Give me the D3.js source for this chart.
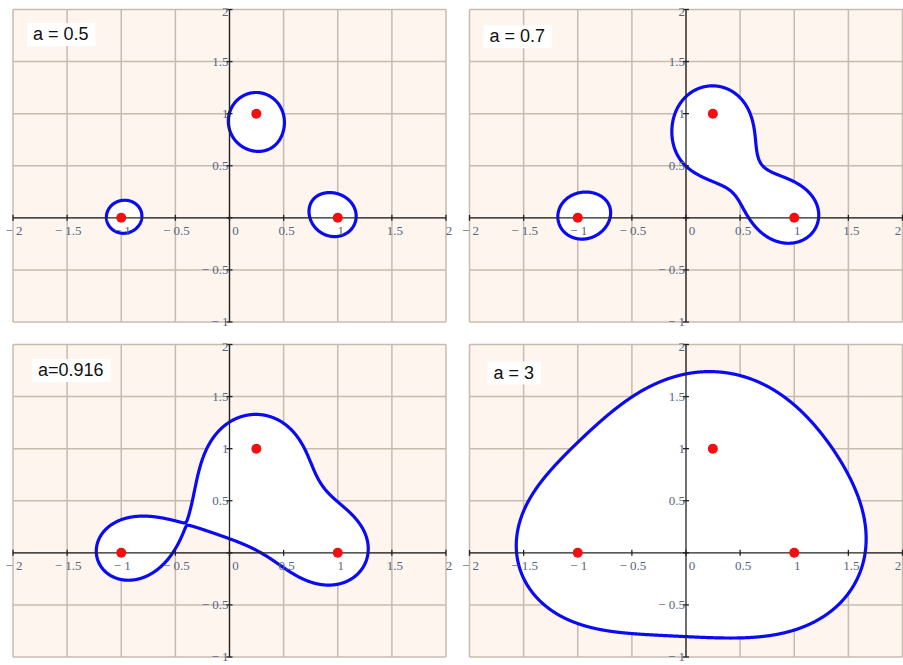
<!DOCTYPE html>
<html>
<head>
<meta charset="utf-8">
<script src="https://cdn.jsdelivr.net/npm/d3@7"></script>
<style>
  html, body { margin: 0; padding: 0; background: #ffffff; }
  svg { display: block; }
  .tick-label { font-family: "Liberation Serif", "DejaVu Serif", serif; font-size: 13px; fill: #56667e; }
  .panel-label { font-family: "Liberation Sans", Arial, sans-serif; font-size: 18px; fill: #111; }
</style>
</head>
<body>
<script>
// Level parameters for the four panels: |(z+1)(z-1)(z-c)| = a
const levels = [0.5, 0.7, 0.916, 3];
const levelLabels = ["a = 0.5", "a = 0.7", "a=0.916", "a = 3"];

// Foci (roots of the cubic)
const fociX = [-1, 1, 0.248];
const fociY = [0, 0, 1];

// Axis ranges and tick values
const xDomain = [-2, 2];
const yDomain = [-1, 2];
const gridX = [-2, -1.5, -1, -0.5, 0, 0.5, 1, 1.5, 2];
const gridY = [-1, -0.5, 0, 0.5, 1, 1.5, 2];
const xTickLabels = ["\u22122", "\u22121.5", "\u22121", "\u22120.5", "0", "0.5", "1", "1.5", "2"];
const yTickLabels = ["\u22121", "\u22120.5", "", "0.5", "1", "1.5", "2"];

const W = 903, H = 665;
const panelW = 433, panelH = 312.5;
const panels = [
  { x: 13,    y: 9.5,   lx: 20, ly: 30.5 },
  { x: 469.5, y: 9.5,   lx: 20, ly: 32.8 },
  { x: 13,    y: 344.5, lx: 25, ly: 31.5 },
  { x: 469.5, y: 344.5, lx: 24, ly: 34 }
];

const svg = d3.select("body").append("svg").attr("width", W).attr("height", H);

// Sample |f(z)| on a fine grid once; each panel contours it at its own level.
const step = 0.004;
const nx = Math.round((xDomain[1] - xDomain[0]) / step);
const ny = Math.round((yDomain[1] - yDomain[0]) / step);
const values = new Float64Array(nx * ny);
for (let j = 0; j < ny; j++) {
  const y = yDomain[1] - (j + 0.5) * step;
  for (let i = 0; i < nx; i++) {
    const x = xDomain[0] + (i + 0.5) * step;
    let m = 1;
    for (let k = 0; k < fociX.length; k++) {
      m *= Math.hypot(x - fociX[k], y - fociY[k]);
    }
    values[j * nx + i] = -m;
  }
}

panels.forEach((p, idx) => {
  const a = levels[idx];
  const xs = d3.scaleLinear().domain(xDomain).range([0, panelW]);
  const ys = d3.scaleLinear().domain(yDomain).range([panelH, 0]);
  const g = svg.append("g").attr("transform", `translate(${p.x},${p.y})`);

  const clipId = "clip" + idx;
  g.append("clipPath").attr("id", clipId)
    .append("rect").attr("width", panelW).attr("height", panelH);

  // Background
  g.append("rect").attr("width", panelW).attr("height", panelH).attr("fill", "#fdf5ee");

  // Grid
  g.append("g").selectAll("line").data(gridX).join("line")
    .attr("x1", d => xs(d)).attr("x2", d => xs(d))
    .attr("y1", 0).attr("y2", panelH)
    .attr("stroke", "#c7bbb0").attr("stroke-width", 1.5);
  g.append("g").selectAll("line").data(gridY).join("line")
    .attr("y1", d => ys(d)).attr("y2", d => ys(d))
    .attr("x1", 0).attr("x2", panelW)
    .attr("stroke", "#c7bbb0").attr("stroke-width", 1.5);

  // Level set region
  const contour = d3.contours().size([nx, ny]).thresholds([-a])(values)[0];
  const sx = panelW / nx, sy = panelH / ny;
  const path = d3.geoPath(d3.geoTransform({
    point: function (x, y) { this.stream.point(x * sx, y * sy); }
  }));
  const region = g.append("g").attr("clip-path", `url(#${clipId})`);
  region.append("path").attr("d", path(contour)).attr("fill", "#ffffff").attr("stroke", "none");

  // Axes through the origin
  const ax = g.append("g");
  ax.append("line").attr("x1", 0).attr("x2", panelW).attr("y1", ys(0)).attr("y2", ys(0))
    .attr("stroke", "#222").attr("stroke-width", 1.3);
  ax.append("line").attr("x1", xs(0)).attr("x2", xs(0)).attr("y1", 0).attr("y2", panelH)
    .attr("stroke", "#222").attr("stroke-width", 1.3);
  ax.selectAll(".xt").data(gridX).join("line").attr("class", "xt")
    .attr("x1", d => xs(d)).attr("x2", d => xs(d))
    .attr("y1", ys(0) - 3).attr("y2", ys(0) + 3)
    .attr("stroke", "#222").attr("stroke-width", 1.3);
  ax.selectAll(".yt").data(gridY).join("line").attr("class", "yt")
    .attr("y1", d => ys(d)).attr("y2", d => ys(d))
    .attr("x1", xs(0) - 3).attr("x2", xs(0) + 3)
    .attr("stroke", "#222").attr("stroke-width", 1.3);

  // Tick labels (the last one is kept inside the page on the right-hand column)
  const maxX = W - p.x - 1;
  ax.selectAll(".xl").data(gridX).join("text").attr("class", "tick-label xl")
    .attr("x", d => {
      const base = d < 0 ? xs(d) + 1 : (d === 0 ? xs(d) + 6 : xs(d) + 3);
      return Math.min(base, maxX - 4);
    })
    .attr("y", ys(0) + 17)
    .attr("text-anchor", "middle")
    .text((d, i) => xTickLabels[i].replace("\u2212", "\u2212 "));
  ax.selectAll(".yl").data(gridY).join("text").attr("class", "tick-label yl")
    .attr("x", xs(0) - 1)
    .attr("y", d => ys(d) + (d === 2 ? 6 : 4))
    .attr("text-anchor", "end")
    .text((d, i) => yTickLabels[i].replace("\u2212", "\u2212 "));

  // Curve outline
  region.append("path").attr("d", path(contour)).attr("fill", "none")
    .attr("stroke", "#0a0af5").attr("stroke-width", 3.2).attr("stroke-linejoin", "round");

  // Foci
  g.append("g").selectAll("circle").data(fociX).join("circle")
    .attr("cx", d => xs(d)).attr("cy", (d, i) => ys(fociY[i]))
    .attr("r", 5).attr("fill", "#f20f0f");

  // Level label
  const lab = g.append("g");
  const t = lab.append("text").attr("class", "panel-label")
    .attr("x", p.lx).attr("y", p.ly).text(levelLabels[idx]);
  const bb = t.node().getBBox();
  lab.insert("rect", "text")
    .attr("x", bb.x - 6).attr("y", bb.y - 1)
    .attr("width", bb.width + 13).attr("height", bb.height + 3)
    .attr("fill", "#ffffff");
});
</script>
</body>
</html>
